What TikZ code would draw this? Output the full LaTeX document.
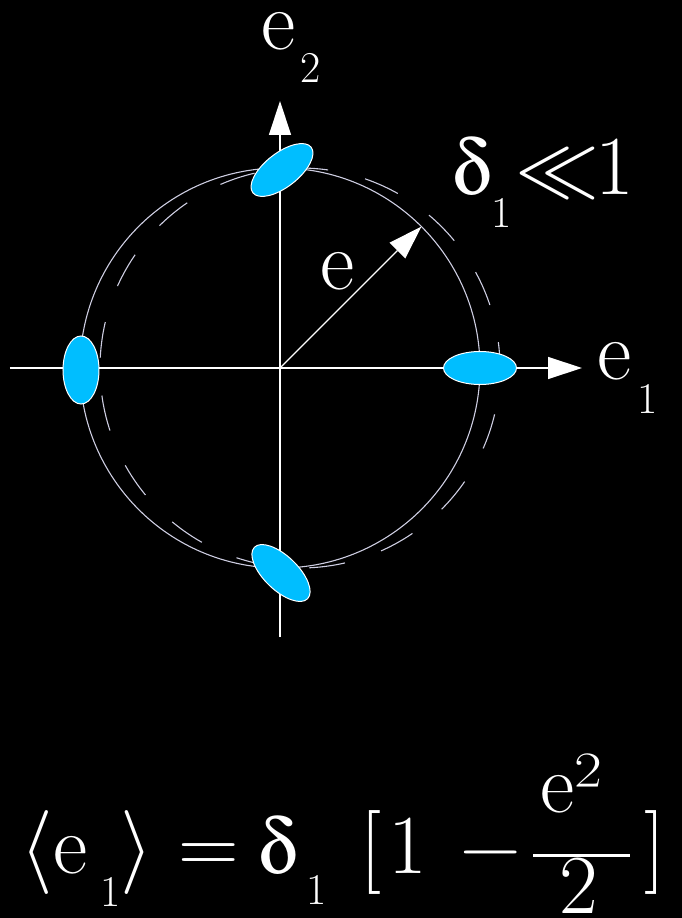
\RequirePackage{fix-cm}
\documentclass[tikz,border=0pt]{standalone}
\usepackage[Symbol]{upgreek}
\usepackage{fontspec}
\usetikzlibrary{arrows.meta}

\definecolor{blobcyan}{RGB}{0,190,255}
\definecolor{ringgray}{RGB}{205,205,225}

\newcommand{\bigfont}{\rmfamily\fontsize{84}{84}\selectfont}
\newcommand{\subfont}{\rmfamily\fontsize{44}{44}\selectfont}
\newcommand{\lowsub}[1]{\raisebox{-33pt}{\subfont #1}}
\newcommand{\dlt}{{\fontsize{78}{78}\selectfont$\updelta$}}

\tikzset{
  line cap=round,
  line join=round,
  ring/.style={draw=ringgray, line width=1.1pt},
  dashring/.style={ring, dash pattern=on 36pt off 38pt, dash phase=10pt},
  axis/.style={draw=white, line width=1.3pt, -{Triangle[length=34pt,width=22pt]}},
  blob/.style={fill=blobcyan, draw=white, line width=1pt},
  lbl/.style={text=white, inner sep=0pt, anchor=base west, font=\bigfont},
  sublbl/.style={lbl, font=\subfont}
}

\begin{document}
\begin{tikzpicture}[x=1pt, y=1pt]
  \fill[black] (-280,-550) rectangle (402,368);
  \useasboundingbox (-280,-550) rectangle (402,368);

  \coordinate (O) at (0,0);
  \coordinate (Od) at (20,0);
  \coordinate (Xs) at (-270,0);
  \coordinate (Xe) at (302,0);
  \coordinate (Ys) at (0,-269);
  \coordinate (Ye) at (0,267);
  \coordinate (R) at (45:200);

  % circle and its shifted copy
  \draw[ring] (O) circle[radius=200];
  \draw[dashring] (Od) circle[radius=200];

  % axes and the vector e
  \draw[axis] (Xs) -- (Xe);
  \draw[axis] (Ys) -- (Ye);
  \draw[axis] (O) -- (R);

  % blobs on the circle
  \draw[blob] (200,0) ellipse[x radius=36.5, y radius=16.5];
  \draw[blob] (-199,-2) ellipse[x radius=18, y radius=34];
  \draw[blob, rotate around={38:(2,198)}] (2,198) ellipse[x radius=37, y radius=17];
  \draw[blob, rotate around={-44:(1,-205)}] (1,-205) ellipse[x radius=37, y radius=17];

  % labels
  \node[lbl] (etwo) at (-19,318) {e\kern5pt\lowsub{2}};
  \node[lbl] (eone) at (317,-12) {e\kern6pt\lowsub{1}};
  \node[lbl] (delta) at (172,173) {\dlt\kern1pt\lowsub{1}\kern4pt$\ll$\kern-4pt1};
  \node[lbl] (elabel) at (40,78) {e};

  % formula
  \node[lbl] (lang) at (-260,-505) {$\langle$};
  \node[lbl] (fe) at (-227,-505) {e};
  \node[sublbl] (fesub) at (-180,-538) {1};
  \node[lbl] (rang) at (-160,-505) {$\rangle$};
  \node[lbl] (eq) at (-102,-505) {=};
  \node[lbl] (fdelta) at (-22,-505) {\dlt};
  \node[sublbl] (fdeltasub) at (26,-536) {1};
  \node[lbl] (lbrack) at (80,-505) {[};
  \node[lbl] (fone) at (108,-505) {1};
  \node[lbl] (minus) at (180,-505) {−};
  \node[lbl] (numer) at (260,-444) {e²};
  \node[lbl] (denom) at (279,-545) {2};
  \node[lbl] (rbrack) at (364,-505) {]};
  \coordinate (barL) at (253,-487);
  \coordinate (barR) at (350,-487);
  \draw[white, line width=3pt, line cap=butt] (barL) -- (barR);
\end{tikzpicture}
\end{document}
